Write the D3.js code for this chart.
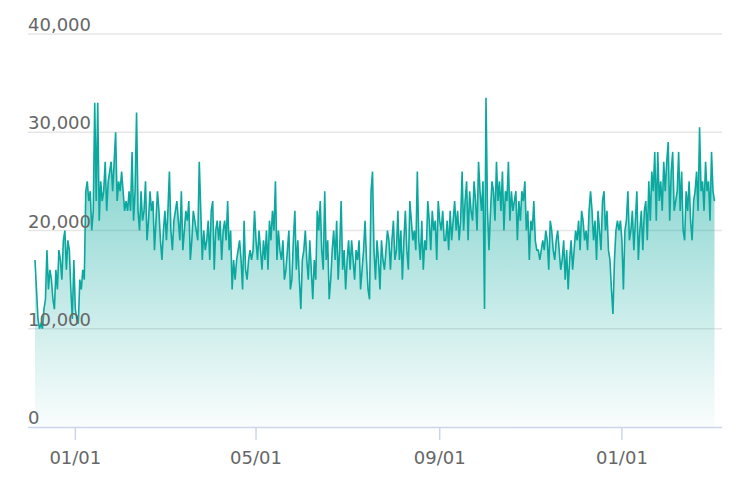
<!DOCTYPE html>
<html><head><meta charset="utf-8">
<script src="https://cdn.jsdelivr.net/npm/d3@7"></script>
<style>body{margin:0;background:#fff}svg{font-family:"DejaVu Sans",sans-serif}</style>
</head><body><svg id="c" width="738" height="492"></svg>
<script>
const startDate = "2019-12-05";
const values = [17,14,11,10,10.5,10,12,13,18,14,16,15,13,12,16,14,18,17,15,19,20,16,19,18,14,11,17,12,11,10.5,15,14,16,
15,24,25,23,24,20,22,33,23,33,21,25,23,24,27,22,25,26,27,24,27,30,23,25,24,26,24,22,23,22,
24,22,28,21,24,32,22,20,24,21,22,25,19,21,24,22,23,18,21,24,22,19,17,20,22,19,22,26,20,18,
21,22,23,21,19,24,18,20,22,21,23,17,19,22,21,20,19,27,22,17,20,18,19,21,17,22,23,16,20,21,
19,21,17,20,21,19,23,18,20,14,17,15,17,18,19,17,14,21,16,15,17,18,17,18,22,19,17,20,18,16,
19,17,20,16,21,19,22,20,25,17,20,18,17,19,15,16,18,20,14,15,19,22,16,19,15,12,17,18,20,17,
15,19,16,13,17,15,22,20,23,18,16,24,17,19,13,15,18,20,17,21,15,18,23,16,18,14,17,19,16,19,17,
15,18,17,19,14,16,18,21,17,14,13,24,26,18,15,19,17,14,19,17,16,18,20,19,16,19,21,17,18,22,
17,20,15,19,22,18,16,23,21,19,20,18,26,19,17,21,16,19,18,23,21,18,22,20,21,17,23,21,20,22,19,
19,21,18,22,19,21,23,20,22,19,21,26,20,23,25,19,24,22,21,25,23,20,27,24,22,25,12,33.5,22,18,
22,25,24,21,27,23,25,22,26,20,24,23,27,21,24,22,23,24,19,23,21,24,23,25,20,22,17,21,20,23,
19,18,18,17,18,19,18,20,19,16,21,20,18,17,19,20,18,16,17,19,15,18,14,17,19,16,18,20,19,21,
18,22,21,19,20,18,22,24,22,19,21,17,22,20,18,23,24,20,22,18,17,14,11.5,17,20,21,20,21,
19,14,20,21,24,19,20,22,18,21,24,17,20,22,18,22,23,19,25,21,26,24,28,21,28,23,25,22,27,
24,27,29,21,26,28,22,23,24,28,22,26,20,19,24,22,25,21,19,23,24,26,22,30.5,24,25,22,27,24,25,21,28,24,23];
const yTicks = [0,10000,20000,30000,40000];
const xTicks = ["2020-01-01","2020-05-01","2020-09-01","2021-01-01"];
const xTickLabels = ["01/01","05/01","09/01","01/01"];

const svg = d3.select("#c");
const t0 = new Date(startDate+"T00:00:00");
const data = values.map((v,i)=>({d:d3.timeDay.offset(t0,i), v:v*1000}));
const x = d3.scaleTime().domain([t0, d3.timeDay.offset(t0,456)]).range([35,716]);
const y = d3.scaleLinear().domain([0,40000]).range([427,34]);

const grad = svg.append("defs").append("linearGradient").attr("id","g").attr("x1",0).attr("x2",0).attr("y1",0).attr("y2",1);
grad.append("stop").attr("offset","0%").attr("stop-color","#0aa89e").attr("stop-opacity",0.6);
grad.append("stop").attr("offset","100%").attr("stop-color","#0aa89e").attr("stop-opacity",0.02);

svg.append("g").selectAll("line").data(yTicks.slice(1)).join("line")
 .attr("x1",28).attr("x2",722).attr("y1",d=>y(d)).attr("y2",d=>y(d))
 .attr("stroke","#e6e6e6").attr("stroke-width",1.5);

svg.append("path").datum(data).attr("fill","url(#g)")
 .attr("d",d3.area().x(d=>x(d.d)).y0(y(0)).y1(d=>y(d.v)));
svg.append("path").datum(data).attr("fill","none").attr("stroke","#0aa89e").attr("stroke-width",1.6)
 .attr("d",d3.line().x(d=>x(d.d)).y(d=>y(d.v)));

svg.append("g").selectAll("text").data(yTicks).join("text")
 .attr("x",28).attr("y",d=>y(d)-3).attr("font-size",18).attr("fill","#666")
 .text(d=>d3.format(",")(d));

svg.append("line").attr("x1",28).attr("x2",722).attr("y1",427.5).attr("y2",427.5).attr("stroke","#ccd6eb").attr("stroke-width",1.5);
const xt = xTicks.map((s,i)=>({d:new Date(s+"T00:00:00"), l:xTickLabels[i]}));
svg.append("g").selectAll("line").data(xt).join("line")
 .attr("x1",d=>x(d.d)).attr("x2",d=>x(d.d)).attr("y1",427).attr("y2",440).attr("stroke","#ccd6eb").attr("stroke-width",1.5);
svg.append("g").selectAll("text").data(xt).join("text")
 .attr("x",d=>x(d.d)).attr("y",464).attr("text-anchor","middle").attr("font-size",18).attr("fill","#666").text(d=>d.l);
</script></body></html>
